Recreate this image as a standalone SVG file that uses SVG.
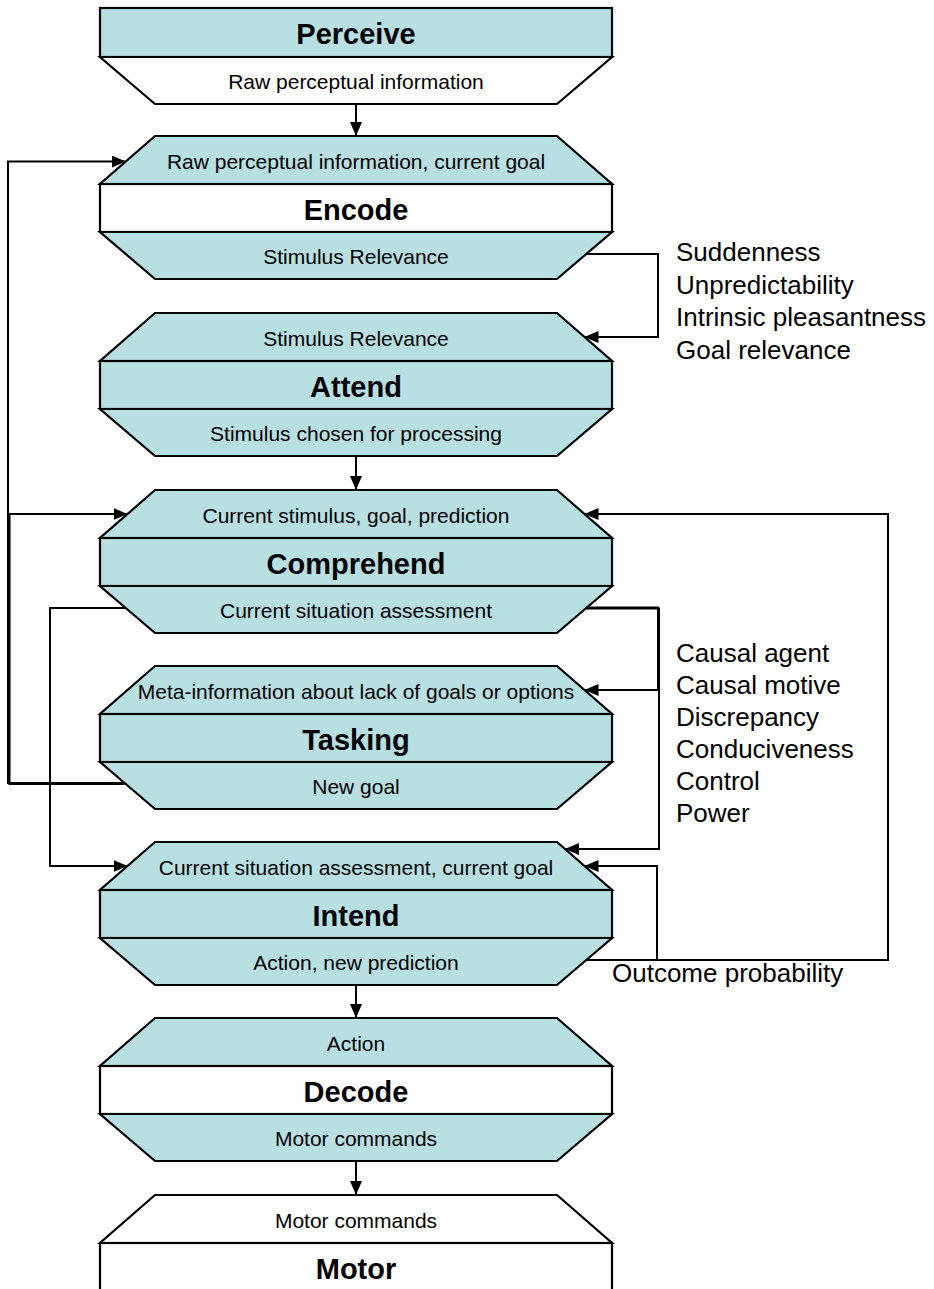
<svg xmlns="http://www.w3.org/2000/svg" width="934" height="1289" viewBox="0 0 934 1289">
  <style>
    .teal { fill: #b8dfe1; stroke: #000; stroke-width: 2.2; }
    .white { fill: #fff; stroke: #000; stroke-width: 2.2; }
    .sub { font-family: "Liberation Sans", Arial, sans-serif; font-size: 21px; fill: #000; text-anchor: middle; }
    .title { font-family: "Liberation Sans", Arial, sans-serif; font-size: 29px; font-weight: bold; fill: #000; text-anchor: middle; }
    .note { font-family: "Liberation Sans", Arial, sans-serif; font-size: 26px; fill: #000; }
    .wire { fill: none; stroke: #000; stroke-width: 2; marker-end: url(#arrow); }
    .wire-plain { fill: none; stroke: #000; stroke-width: 2; }
  </style>
  <defs>
    <marker id="arrow" viewBox="0 0 14 12" refX="14" refY="6" markerWidth="14" markerHeight="12" markerUnits="userSpaceOnUse" orient="auto">
      <path d="M0,0 L14,6 L0,12 z" fill="#000"/>
    </marker>
  </defs>

  <rect width="934" height="1289" fill="#fff"/>

  <!-- Perceive -->
  <g id="perceive">
    <rect class="teal" x="100" y="8" width="512" height="49"/>
    <polygon class="white" points="100,57 612,57 557,104 155,104"/>
    <text class="title" x="356" y="44">Perceive</text>
    <text class="sub" x="356" y="89">Raw perceptual information</text>
  </g>

  <!-- Encode -->
  <g id="encode">
    <polygon class="teal" points="155,136 557,136 612,184 100,184"/>
    <rect class="white" x="100" y="184" width="512" height="48"/>
    <polygon class="teal" points="100,232 612,232 557,279 155,279"/>
    <text class="sub" x="356" y="169">Raw perceptual information, current goal</text>
    <text class="title" x="356" y="219.5">Encode</text>
    <text class="sub" x="356" y="263.5">Stimulus Relevance</text>
  </g>

  <!-- Attend -->
  <g id="attend">
    <polygon class="teal" points="155,313 557,313 612,361 100,361"/>
    <rect class="teal" x="100" y="361" width="512" height="48"/>
    <polygon class="teal" points="100,409 612,409 557,456 155,456"/>
    <text class="sub" x="356" y="346">Stimulus Relevance</text>
    <text class="title" x="356" y="396.5">Attend</text>
    <text class="sub" x="356" y="440.5">Stimulus chosen for processing</text>
  </g>

  <!-- Comprehend -->
  <g id="comprehend">
    <polygon class="teal" points="155,490 557,490 612,538 100,538"/>
    <rect class="teal" x="100" y="538" width="512" height="48"/>
    <polygon class="teal" points="100,586 612,586 557,633 155,633"/>
    <text class="sub" x="356" y="523">Current stimulus, goal, prediction</text>
    <text class="title" x="356" y="573.5">Comprehend</text>
    <text class="sub" x="356" y="617.5">Current situation assessment</text>
  </g>

  <!-- Tasking -->
  <g id="tasking">
    <polygon class="teal" points="155,666 557,666 612,714 100,714"/>
    <rect class="teal" x="100" y="714" width="512" height="48"/>
    <polygon class="teal" points="100,762 612,762 557,809 155,809"/>
    <text class="sub" x="356" y="699">Meta-information about lack of goals or options</text>
    <text class="title" x="356" y="749.5">Tasking</text>
    <text class="sub" x="356" y="793.5">New goal</text>
  </g>

  <!-- Intend -->
  <g id="intend">
    <polygon class="teal" points="155,842 557,842 612,890 100,890"/>
    <rect class="teal" x="100" y="890" width="512" height="48"/>
    <polygon class="teal" points="100,938 612,938 557,985 155,985"/>
    <text class="sub" x="356" y="875">Current situation assessment, current goal</text>
    <text class="title" x="356" y="925.5">Intend</text>
    <text class="sub" x="356" y="969.5">Action, new prediction</text>
  </g>

  <!-- Decode -->
  <g id="decode">
    <polygon class="teal" points="155,1018 557,1018 612,1066 100,1066"/>
    <rect class="white" x="100" y="1066" width="512" height="48"/>
    <polygon class="teal" points="100,1114 612,1114 557,1161 155,1161"/>
    <text class="sub" x="356" y="1051">Action</text>
    <text class="title" x="356" y="1101.5">Decode</text>
    <text class="sub" x="356" y="1145.5">Motor commands</text>
  </g>

  <!-- Motor -->
  <g id="motor">
    <polygon class="white" points="155,1195 557,1195 612,1243 100,1243"/>
    <rect class="white" x="100" y="1243" width="512" height="60"/>
    <text class="sub" x="356" y="1228">Motor commands</text>
    <text class="title" x="356" y="1278.5">Motor</text>
  </g>

  <!-- Connectors -->
  <g id="connectors">
    <path class="wire" d="M356,104 V136"/>
    <path class="wire" d="M356,456 V490"/>
    <path class="wire" d="M356,985 V1018"/>
    <path class="wire" d="M356,1161 V1195"/>
    <!-- stimulus relevance loop on the right -->
    <path class="wire" d="M586,254 H658 V337 H584.5"/>
    <!-- new goal feeding back to encode and comprehend -->
    <path class="wire" d="M124.6,783 H8 V161.5 H125.8"/>
    <path class="wire" d="M124.6,784 H9.5 V514 H127.5"/>
    <!-- situation assessment to intend (left) -->
    <path class="wire" d="M125.7,608 H50 V866 H127.5"/>
    <!-- situation assessment to tasking and intend (right) -->
    <path class="wire" d="M586,607.5 H658 V690 H584.5"/>
    <path class="wire" d="M586,608.5 H659 V849 H565"/>
    <!-- outcome probability loops -->
    <path class="wire" d="M586,960 H657 V866 H584.5"/>
    <path class="wire" d="M657,960 H888 V514 H584.5"/>
  </g>

  <!-- Appraisal labels -->
  <g id="labels">
    <text class="note" x="676" y="261">Suddenness</text>
    <text class="note" x="676" y="293.5">Unpredictability</text>
    <text class="note" x="676" y="326">Intrinsic pleasantness</text>
    <text class="note" x="676" y="358.5">Goal relevance</text>
    <text class="note" x="676" y="662">Causal agent</text>
    <text class="note" x="676" y="694">Causal motive</text>
    <text class="note" x="676" y="726">Discrepancy</text>
    <text class="note" x="676" y="758">Conduciveness</text>
    <text class="note" x="676" y="790">Control</text>
    <text class="note" x="676" y="822">Power</text>
    <text class="note" x="612" y="982">Outcome probability</text>
  </g>
</svg>
